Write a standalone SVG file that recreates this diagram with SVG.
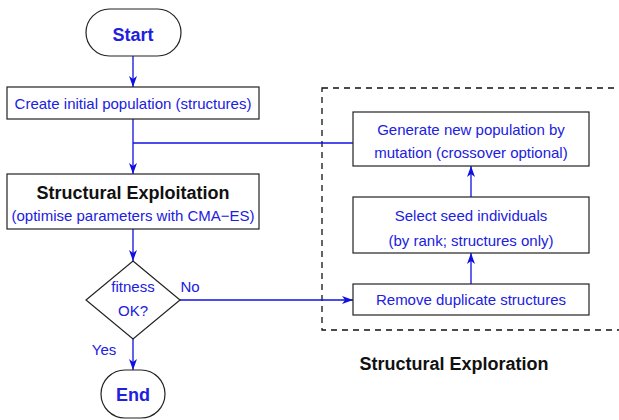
<svg xmlns="http://www.w3.org/2000/svg" width="619" height="420" viewBox="0 0 619 420">
<defs>
<marker id="ah" markerWidth="12" markerHeight="8" refX="11" refY="4" orient="auto" markerUnits="userSpaceOnUse">
<path d="M0,0 L11,4 L0,8 L3,4 z" fill="#1010e0"/>
</marker>
<style>
.box{fill:#fff;stroke:#222;stroke-width:1.2}
.t{font-family:"Liberation Sans",Arial,sans-serif;font-size:15px;fill:#2020e0;text-anchor:middle}
.tb{font-family:"Liberation Sans",Arial,sans-serif;font-size:18px;font-weight:bold;text-anchor:middle}
.c{fill:none;stroke:#1010e0;stroke-width:1.3}
</style>
</defs>
<rect x="322" y="88" width="310" height="242" fill="none" stroke="#111" stroke-width="1.3" stroke-dasharray="6,5"/>
<text class="tb" x="454" y="370" fill="#111">Structural Exploration</text>
<g id="connectors">
<path class="c" d="M133,56 V87" marker-end="url(#ah)"/>
<path class="c" d="M133,119 V174" marker-end="url(#ah)"/>
<path class="c" d="M133,143 H353"/>
<path class="c" d="M133,229 V261" marker-end="url(#ah)"/>
<path class="c" d="M133,339 V370" marker-end="url(#ah)"/>
<path class="c" d="M180,300 H353" marker-end="url(#ah)"/>
<path class="c" d="M471,284 V253" marker-end="url(#ah)"/>
<path class="c" d="M471,197 V166" marker-end="url(#ah)"/>
<text class="t" x="190" y="292">No</text>
<text class="t" x="104" y="355">Yes</text>
</g>
<g id="start">
<rect class="box" x="86" y="9" width="95" height="47" rx="23.5"/>
<text class="tb" x="133" y="41" fill="#2020e0">Start</text>
</g>
<g id="create">
<rect class="box" x="7" y="87" width="252" height="32"/>
<text class="t" x="133" y="109">Create initial population (structures)</text>
</g>
<g id="exploit">
<rect class="box" x="7" y="174" width="252" height="55"/>
<text class="tb" x="133" y="199" fill="#111">Structural Exploitation</text>
<text class="t" x="133" y="221">(optimise parameters with CMA−ES)</text>
</g>
<g id="decision">
<polygon class="box" points="133,261 180,300 133,339 86,300"/>
<text class="t" x="133" y="292">fitness</text>
<text class="t" x="133" y="316">OK?</text>
</g>
<g id="end">
<rect class="box" x="101" y="370" width="64" height="48" rx="24"/>
<text class="tb" x="133" y="401" fill="#2020e0">End</text>
</g>
<g id="generate">
<rect class="box" x="353" y="112" width="236" height="54"/>
<text class="t" x="471" y="135">Generate new population by</text>
<text class="t" x="471" y="158">mutation (crossover optional)</text>
</g>
<g id="select">
<rect class="box" x="353" y="197" width="236" height="56"/>
<text class="t" x="471" y="221">Select seed individuals</text>
<text class="t" x="471" y="246">(by rank; structures only)</text>
</g>
<g id="remove">
<rect class="box" x="353" y="284" width="236" height="31"/>
<text class="t" x="471" y="305">Remove duplicate structures</text>
</g>
</svg>
